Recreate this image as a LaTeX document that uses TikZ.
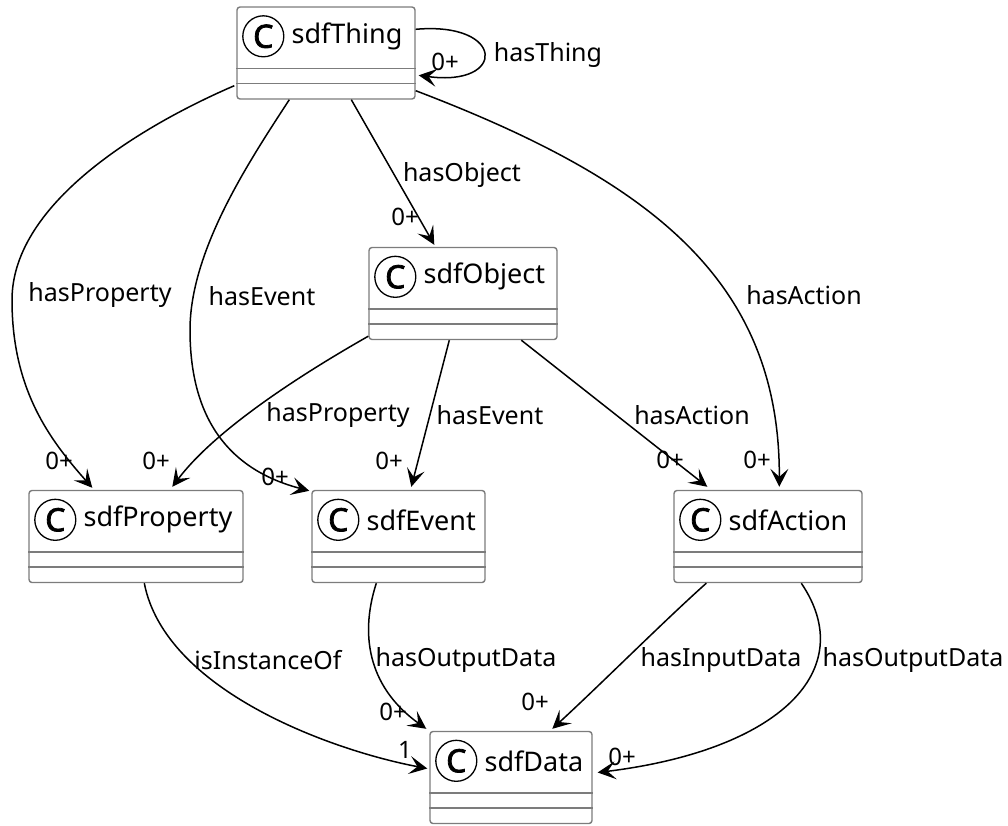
\documentclass[tikz,border=0pt]{standalone}
\usepackage{fontspec}
\setmainfont{Noto Sans}
\newfontfamily\badgefont{Noto Sans}[FakeBold=2.5]
\usetikzlibrary{arrows.meta,calc,positioning}
\definecolor{boxline}{HTML}{7C7C7C}

\begin{document}
\begin{tikzpicture}[x=1pt,y=-1pt,
    classbox/.style={draw=boxline, line width=1.4pt, rounded corners=3pt, fill=white, minimum height=92pt, inner sep=0pt},
    sepline/.style={draw=boxline, line width=1.4pt},
    badge/.style={draw, circle, line width=1.3pt, minimum size=41pt, inner sep=0pt, font=\fontsize{32}{32}\badgefont},
    classname/.style={inner sep=0pt, font=\fontsize{27}{32}\selectfont},
    rel/.style={line width=1.5pt, -{Stealth[length=18pt,width=18pt,inset=8pt]}},
    lbl/.style={inner sep=0pt, font=\fontsize{25}{30}\selectfont},
    mult/.style={inner sep=0pt, font=\fontsize{24}{28}\selectfont}]
    \useasboundingbox (0,0) rectangle (1008,825); % same frame as the reference

    % the six classes: name / centre x / centre y / width / title
    \foreach \n/\x/\y/\w/\lab in {thing/326/53/178/sdfThing,
                                  object/463/293.5/188/sdfObject,
                                  property/136/536.5/214/sdfProperty,
                                  event/398.5/536.5/173/sdfEvent,
                                  action/768/536.5/188/sdfAction,
                                  data/511/777.5/162/sdfData}{
            \node[classbox, minimum width=\w pt] (\n) at (\x,\y) {};
            \draw[sepline] ($(\n.north west)+(0,62)$) -- ($(\n.north east)+(0,62)$); % attributes
            \draw[sepline] ($(\n.north west)+(0,77)$) -- ($(\n.north east)+(0,77)$); % methods
            \node[badge] (\n-c) at ($(\n.north west)+(27,30)$) {C};
            \node[classname, right=7pt of \n-c] (\n-t) {\lab};
        }

    % relations out of sdfThing
    \draw[rel] ($(thing.north east)+(0,23)$) .. controls +(90,-8) and +(88,12) .. ($(thing.north east)+(3,69)$);
    \draw[rel] ($(thing.south west)+(-2,-14)$) .. controls (150,122) and (12,200) .. (12,300)
                .. controls (12,390) and (50,440) .. ($(property.north west)+(64,-2)$);
    \draw[rel] ($(thing.south west)+(53,0)$) .. controls (250,160) and (190,250) .. (190,330)
                .. controls (190,420) and (230,470) .. ($(event.north west)+(-2,1)$);
    \draw[rel] ($(thing.south west)+(115,0)$) -- ($(object.north west)+(66,-2)$);
    \draw[rel] ($(thing.south east)+(0,-9)$) .. controls (650,180) and (780,280) .. ($(action.north west)+(106,-3)$);

    % relations out of sdfObject
    \draw[rel] ($(object.south west)+(0,-4)$) .. controls (300,375) and (215,430) .. ($(property.north west)+(144,-3)$);
    \draw[rel] ($(object.south west)+(81,0)$) -- ($(event.north west)+(100,-3)$);
    \draw[rel] ($(object.south west)+(153,0)$) -- ($(action.north west)+(34,-3)$);

    % relations into sdfData
    \draw[rel] ($(property.south west)+(116,0)$) .. controls (165,690) and (330,750) .. ($(data.west)+(-2,-9)$);
    \draw[rel] ($(event.south west)+(65,0)$) .. controls (358,640) and (372,690) .. ($(data.north west)+(-3,-2)$);
    \draw[rel] ($(action.south west)+(33,0)$) .. controls (665,620) and (600,685) .. ($(data.north west)+(123,-2)$);
    \draw[rel] ($(action.south west)+(128,0)$) .. controls (860,670) and (780,750) .. ($(data.east)+(5,-5)$);

    % labels
    \node[lbl] (l-hasthing) at (548,55) {hasThing};
    \node[lbl] (l-tprop) at (100,295) {hasProperty};
    \node[lbl] (l-tevent) at (262,296) {hasEvent};
    \node[lbl] (l-tobject) at (462,175) {hasObject};
    \node[lbl] (l-taction) at (804,295) {hasAction};
    \node[lbl] (l-oprop) at (338,415) {hasProperty};
    \node[lbl] (l-oevent) at (490,415) {hasEvent};
    \node[lbl] (l-oaction) at (692,415) {hasAction};
    \node[lbl] (l-inst) at (268,660) {isInstanceOf};
    \node[lbl] (l-eout) at (466,660) {hasOutputData};
    \node[lbl] (l-ain) at (721,660) {hasInputData};
    \node[lbl] (l-aout) at (913,660) {hasOutputData};

    % multiplicities
    \node[mult] (m-hasthing) at (445,62) {0+};
    \node[mult] (m-tprop) at (59,461) {0+};
    \node[mult] (m-tevent) at (275,477) {0+};
    \node[mult] (m-tobject) at (405,217) {0+};
    \node[mult] (m-taction) at (757,460) {0+};
    \node[mult] (m-oprop) at (156,461) {0+};
    \node[mult] (m-oevent) at (389,461) {0+};
    \node[mult] (m-oaction) at (670,460) {0+};
    \node[mult] (m-inst) at (405,750) {1};
    \node[mult] (m-eout) at (393,712) {0+};
    \node[mult] (m-ain) at (535,702) {0+};
    \node[mult] (m-aout) at (622,757) {0+};
\end{tikzpicture}
\end{document}
